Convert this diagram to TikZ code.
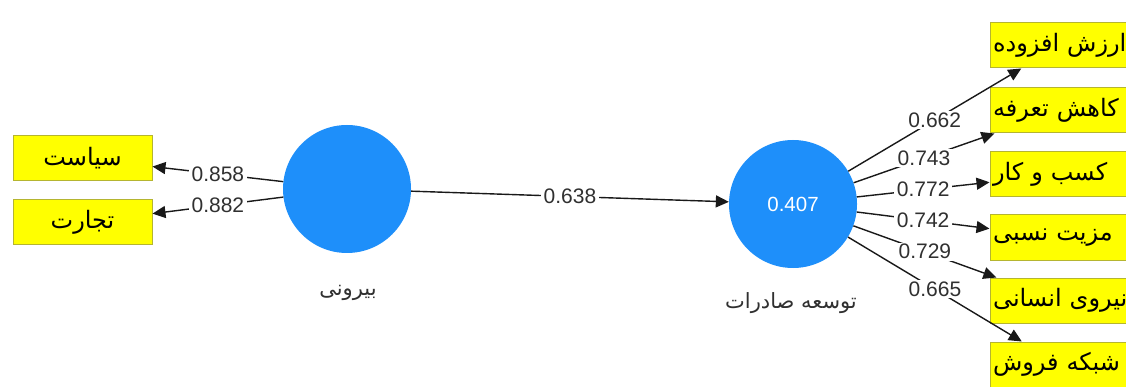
\documentclass[tikz,border=0pt]{standalone}
\usepackage{fontspec}
\setmainfont{Liberation Sans}
\newfontfamily\arabicfont[Script=Arabic]{DejaVu Sans}
\TeXXeTstate=1
\usetikzlibrary{arrows.meta}
\definecolor{latblue}{HTML}{1E8FFA}
\definecolor{boxyellow}{HTML}{FFFF00}
\definecolor{boxedge}{HTML}{B5B530}
\definecolor{lblgray}{HTML}{303030}
\tikzset{
 latent/.style={circle, fill=latblue, minimum size=128pt, inner sep=0pt, text=white, font=\fontsize{20.5}{24}\selectfont},
 indic/.style={rectangle, fill=boxyellow, draw=boxedge, line width=1pt, minimum height=45pt, inner ysep=0pt, font=\arabicfont\fontsize{24}{28}\selectfont},
 rind/.style={indic, text width=134pt, align=left, inner xsep=3pt},
 lind/.style={indic, minimum width=139pt, align=center},
 conn/.style={draw=black!90, line width=1.4pt, -{Triangle[length=13pt,width=12pt]}},
 wt/.style={fill=white, inner xsep=3pt, inner ysep=1.5pt, text=lblgray, font=\fontsize{21}{24}\selectfont},
 capt/.style={text=lblgray, font=\arabicfont\fontsize{21}{24}\selectfont}
}
\begin{document}
\begin{tikzpicture}[x=1pt,y=1pt]
\useasboundingbox (0,0) rectangle (1126,-387);
\clip (0,0) rectangle (1126,-387);
\fill[white] (0,0) rectangle (1126,-387);
\node[latent] (ext) at (347,-189) {};
\node[latent] (exp) at (793,-204) {0.407};
\node[capt] (extcap) at (348,-293) {\beginR بیرونی\endR};
\node[capt] (expcap) at (791,-303) {\beginR توسعه صادرات\endR};
\node[lind] (p1) at (82.5,-158.5) {\beginR سیاست\endR};
\node[lind] (p2) at (82.5,-222.5) {\beginR تجارت\endR};
\node[rind] (r1) at (1060,-45.5) {\mbox{\beginR ارزش افزوده\endR}};
\node[rind] (r2) at (1060,-110.5) {\mbox{\beginR کاهش تعرفه\endR}};
\node[rind] (r3) at (1060,-174.5) {\mbox{\beginR کسب و کار\endR}};
\node[rind] (r4) at (1060,-237.5) {\mbox{\beginR مزیت نسبی\endR}};
\node[rind] (r5) at (1060,-300.5) {\mbox{\beginR نیروی انسانی\endR}};
\node[rind] (r6) at (1060,-364.5) {\mbox{\beginR شبکه فروش\endR}};
\draw[conn] (ext) -- node[wt]{0.858} (p1);
\draw[conn] (ext) -- node[wt]{0.882} (p2);
\draw[conn] (ext) -- node[wt]{0.638} (exp);
\draw[conn] (exp) -- node[wt]{0.662} (r1);
\draw[conn] (exp) -- node[wt]{0.743} (r2);
\draw[conn] (exp) -- node[wt]{0.772} (r3);
\draw[conn] (exp) -- node[wt]{0.742} (r4);
\draw[conn] (exp) -- node[wt]{0.729} (r5);
\draw[conn] (exp) -- node[wt]{0.665} (r6);
\end{tikzpicture}
\end{document}
